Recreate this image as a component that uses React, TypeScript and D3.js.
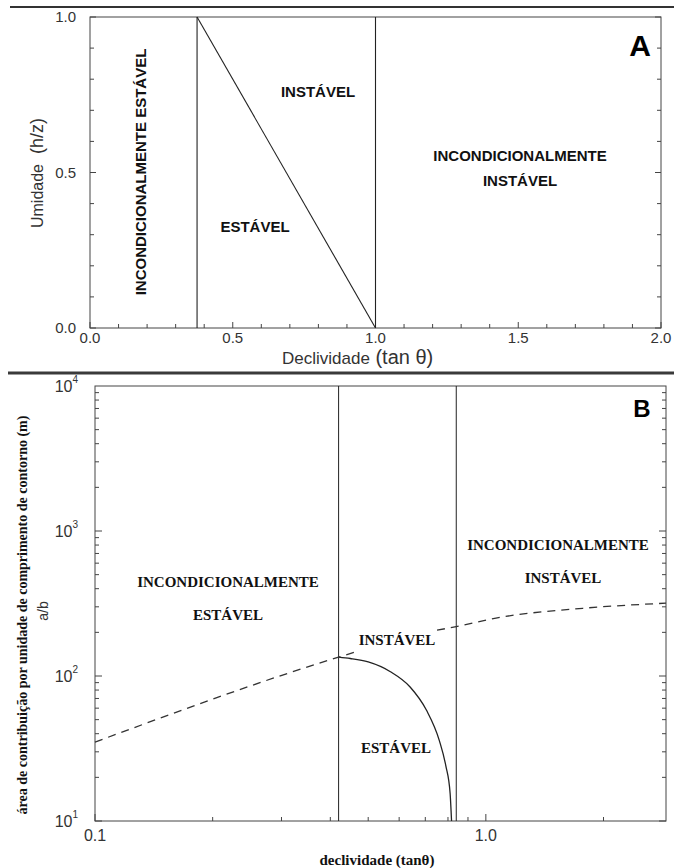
import React from "react";
import * as d3 from "d3";

// ---------- Panel A data ----------
const topXTicks = [0, 0.5, 1.0, 1.5, 2.0];
const topXTickLabels = ["0.0", "0.5", "1.0", "1.5", "2.0"];
const topYTicks = [0, 0.5, 1.0];
const topYTickLabels = ["0.0", "0.5", "1.0"];
const topBoundaryX = [0.375, 1.0];
const topDiagonalX = [0.375, 1.0];
const topDiagonalY = [1.0, 0.0];

// ---------- Panel B data ----------
const botYTicks = [10, 100, 1000, 10000];
const botYExponents = ["1", "2", "3", "4"];
const botXTicks = [0.1, 1.0];
const botXTickLabels = ["0.1", "1.0"];
const botBoundaryX = [0.42, 0.84];
const stableCurveX = [0.42, 0.45, 0.5, 0.57, 0.64, 0.705, 0.76, 0.79, 0.81, 0.817];
const stableCurveY = [135, 132, 125, 107, 84, 58, 36, 24, 15.6, 10];
const dashLeftX = [0.1, 0.42, 0.47];
const dashLeftY = [35, 135, 148];
const dashRightX = [0.75, 0.84, 1.09, 1.77, 2.89];
const dashRightY = [207, 219, 254, 293, 318];

const SANS = "'Liberation Sans', Arial, Helvetica, sans-serif";
const SERIF = "'Liberation Serif', 'Times New Roman', serif";
const INK = "#222";

export default function App() {
  // Panel A scales
  const xA = d3.scaleLinear().domain([0, 2]).range([90, 661]);
  const yA = d3.scaleLinear().domain([0, 1]).range([328, 17]);
  // Panel B scales
  const xB = d3.scaleLog().domain([0.1, 2.89]).range([95, 666]);
  const yB = d3.scaleLog().domain([10, 10000]).range([821, 386]);

  const lineA = d3
    .line<number>()
    .x((_, i) => xA(topDiagonalX[i]))
    .y((d) => yA(d));

  const mkLogLine = (xs: number[]) =>
    d3
      .line<number>()
      .x((_, i) => xB(xs[i]))
      .y((d) => yB(d));

  const stablePath = mkLogLine(stableCurveX).curve(d3.curveMonotoneX)(stableCurveY) || "";
  const dashLeftPath = mkLogLine(dashLeftX).curve(d3.curveMonotoneX)(dashLeftY) || "";
  const dashRightPath = mkLogLine(dashRightX).curve(d3.curveMonotoneX)(dashRightY) || "";

  const minorA_x = d3.range(0, 2.0001, 0.1);
  const minorA_y = d3.range(0, 1.0001, 0.1);

  const minorB_y: number[] = [];
  for (let e = 1; e < 4; e++) for (let m = 1; m <= 9; m++) minorB_y.push(m * Math.pow(10, e));
  const minorB_x: number[] = [];
  for (let e = -1; e <= 0; e++)
    for (let m = 1; m <= 9; m++) {
      const v = m * Math.pow(10, e);
      if (v <= 2.89) minorB_x.push(v);
    }

  const [ax0, ax1] = xA.range();
  const [ay0, ay1] = yA.range();
  const [bx0, bx1] = xB.range();
  const [by0, by1] = yB.range();

  return (
    <div style={{ position: "absolute", left: 0, top: 0 }}>
      <svg width={674} height={868} style={{ display: "block", background: "#fff" }}>
        {/* separators */}
        <line x1={10} x2={674} y1={7} y2={7} stroke="#333" strokeWidth={2} />
        <line x1={8} x2={674} y1={373} y2={373} stroke="#3a3a3a" strokeWidth={3} />

        {/* ================= Panel A ================= */}
        <rect x={ax0} y={ay1} width={ax1 - ax0} height={ay0 - ay1} fill="none" stroke="#444" strokeWidth={1} />
        {minorA_x.map((v, i) => {
          const len = Math.abs(v * 2 - Math.round(v * 2)) < 1e-6 ? 6 : 4;
          return <line key={"ax" + i} x1={xA(v)} x2={xA(v)} y1={ay0} y2={ay0 - len} stroke="#444" />;
        })}
        {minorA_y.map((v, i) => {
          const len = Math.abs(v * 2 - Math.round(v * 2)) < 1e-6 ? 6 : 4;
          return (
            <g key={"ay" + i}>
              <line x1={ax0} x2={ax0 + len} y1={yA(v)} y2={yA(v)} stroke="#444" />
              <line x1={ax1} x2={ax1 - len} y1={yA(v)} y2={yA(v)} stroke="#444" />
            </g>
          );
        })}
        {topBoundaryX.map((v, i) => (
          <line key={"tb" + i} x1={xA(v)} x2={xA(v)} y1={ay0} y2={ay1} stroke={INK} strokeWidth={1.1} />
        ))}
        <path d={lineA(topDiagonalY) || ""} fill="none" stroke={INK} strokeWidth={1.1} />

        {topXTicks.map((v, i) => (
          <text key={"tx" + i} x={xA(v)} y={343} textAnchor="middle" fontFamily={SANS} fontSize={15} fill="#333">
            {topXTickLabels[i]}
          </text>
        ))}
        {topYTicks.map((v, i) => (
          <text key={"ty" + i} x={76} y={yA(v) + 5} textAnchor="end" fontFamily={SANS} fontSize={15} fill="#333">
            {topYTickLabels[i]}
          </text>
        ))}
        <text x={282} y={364} fontFamily={SANS} fill="#333">
          <tspan fontSize={17}>Declividade</tspan>
          <tspan fontSize={20}> (tan θ)</tspan>
        </text>
        <text transform="translate(43,173) rotate(-90)" textAnchor="middle" fontFamily={SANS} fill="#333">
          <tspan fontSize={16}>Umidade</tspan>
          <tspan fontSize={18}>{"\u00a0\u00a0(h/z)"}</tspan>
        </text>

        <text transform="translate(146,172) rotate(-90)" textAnchor="middle" fontFamily={SANS} fontWeight="bold" fontSize={15} fill="#111">
          INCONDICIONALMENTE ESTÁVEL
        </text>
        <text x={318} y={97} textAnchor="middle" fontFamily={SANS} fontWeight="bold" fontSize={15} fill="#111">INSTÁVEL</text>
        <text x={255} y={232} textAnchor="middle" fontFamily={SANS} fontWeight="bold" fontSize={15} fill="#111">ESTÁVEL</text>
        <text x={520} y={161} textAnchor="middle" fontFamily={SANS} fontWeight="bold" fontSize={15} fill="#111">INCONDICIONALMENTE</text>
        <text x={520} y={186} textAnchor="middle" fontFamily={SANS} fontWeight="bold" fontSize={15} fill="#111">INSTÁVEL</text>
        <text x={640} y={56} textAnchor="middle" fontFamily={SANS} fontWeight="bold" fontSize={30} fill="#000">A</text>

        {/* ================= Panel B ================= */}
        <rect x={bx0} y={by1} width={bx1 - bx0} height={by0 - by1} fill="none" stroke="#444" strokeWidth={1} />
        {minorB_y.map((v, i) => {
          const major = Math.abs(Math.log10(v) - Math.round(Math.log10(v))) < 1e-9;
          const len = major ? 7 : 4;
          return (
            <g key={"by" + i}>
              <line x1={bx0} x2={bx0 + len} y1={yB(v)} y2={yB(v)} stroke="#444" />
              <line x1={bx1} x2={bx1 - len} y1={yB(v)} y2={yB(v)} stroke="#444" />
            </g>
          );
        })}
        {minorB_x.map((v, i) => {
          const major = Math.abs(Math.log10(v) - Math.round(Math.log10(v))) < 1e-9;
          const len = major ? 7 : 4;
          return <line key={"bx" + i} x1={xB(v)} x2={xB(v)} y1={by0} y2={by0 - len} stroke="#444" />;
        })}
        {botBoundaryX.map((v, i) => (
          <line key={"bb" + i} x1={xB(v)} x2={xB(v)} y1={by0} y2={by1} stroke={INK} strokeWidth={1} />
        ))}
        <path d={stablePath} fill="none" stroke={INK} strokeWidth={1.3} />
        <path d={dashLeftPath} fill="none" stroke="#333" strokeWidth={1.3} strokeDasharray="8 6" />
        <path d={dashRightPath} fill="none" stroke="#333" strokeWidth={1.3} strokeDasharray="8 6" />

        {botYTicks.map((v, i) => (
          <text key={"bty" + i} x={78} y={yB(v) + 6} textAnchor="end" fontFamily={SANS} fill="#333">
            <tspan fontSize={16}>10</tspan>
            <tspan fontSize={10} dy={-9}>{botYExponents[i]}</tspan>
          </text>
        ))}
        {botXTicks.map((v, i) => (
          <text key={"btx" + i} x={xB(v)} y={841} textAnchor="middle" fontFamily={SANS} fontSize={16} fill="#333">
            {botXTickLabels[i]}
          </text>
        ))}
        <text x={377} y={865} textAnchor="middle" fontFamily={SERIF} fontWeight="bold" fontSize={15} fill="#111">
          declividade (tanθ)
        </text>
        <text transform="translate(27,615) rotate(-90)" textAnchor="middle" fontFamily={SERIF} fontWeight="bold" fontSize={14} fill="#111">
          área de contribuição por unidade de comprimento de contorno (m)
        </text>
        <text transform="translate(48,611) rotate(-90)" textAnchor="middle" fontFamily={SANS} fontSize={14} fill="#333">
          a/b
        </text>

        <text x={228} y={587} textAnchor="middle" fontFamily={SERIF} fontWeight="bold" fontSize={15} fill="#111">INCONDICIONALMENTE</text>
        <text x={228} y={620} textAnchor="middle" fontFamily={SERIF} fontWeight="bold" fontSize={15} fill="#111">ESTÁVEL</text>
        <text x={558} y={550} textAnchor="middle" fontFamily={SERIF} fontWeight="bold" fontSize={15} fill="#111">INCONDICIONALMENTE</text>
        <text x={563} y={583} textAnchor="middle" fontFamily={SERIF} fontWeight="bold" fontSize={15} fill="#111">INSTÁVEL</text>
        <text x={397} y={645} textAnchor="middle" fontFamily={SERIF} fontWeight="bold" fontSize={15} fill="#111">INSTÁVEL</text>
        <text x={396} y={753} textAnchor="middle" fontFamily={SERIF} fontWeight="bold" fontSize={15} fill="#111">ESTÁVEL</text>
        <text x={642} y={417} textAnchor="middle" fontFamily={SANS} fontWeight="bold" fontSize={24} fill="#000">B</text>
      </svg>
    </div>
  );
}
